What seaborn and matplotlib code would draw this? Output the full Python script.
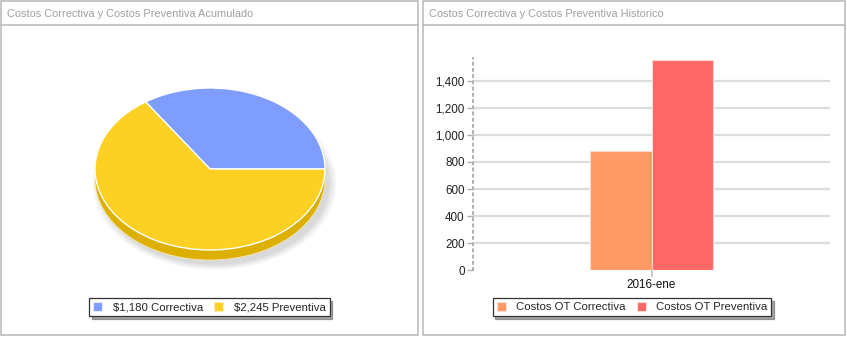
import matplotlib
matplotlib.use("Agg")
import matplotlib.pyplot as plt
import seaborn as sns
import pandas as pd
from matplotlib.patches import Rectangle, Ellipse, Patch
from matplotlib.ticker import StrMethodFormatter, FixedLocator

# ---------------- data ----------------
pie_labels = ["Correctiva", "Preventiva"]
pie_values = [1180, 2245]
pie_colors = ["#7f9cff", "#fcd124"]

bar_category = ["2016-ene"]
bar_series = ["Costos OT Correctiva", "Costos OT Preventiva"]
bar_correctiva = [880]
bar_preventiva = [1550]
bar_colors = ["#ff9966", "#ff6666"]
y_ticks = [0, 200, 400, 600, 800, 1000, 1200, 1400]

panel_titles = ["Costos Correctiva y Costos Preventiva Acumulado",
                "Costos Correctiva y Costos Preventiva Historico"]

# ---------------- figure ----------------
sns.set_theme(style="white")
plt.rcParams["font.family"] = ["Liberation Sans", "DejaVu Sans"]
W, H = 847, 339
fig = plt.figure(figsize=(W / 100, H / 100), dpi=100)
fig.patch.set_facecolor("white")


def fx(px):
    return px / W


def fy(py):
    return 1 - py / H


def box(left, top, right, bottom):
    return [fx(left), fy(bottom), fx(right) - fx(left), fy(top) - fy(bottom)]


# panels
for (l, r), title in zip([(1, 418), (423, 845)], panel_titles):
    fig.add_artist(Rectangle((fx(l), fy(335)), fx(r) - fx(l), fy(1) - fy(335),
                             transform=fig.transFigure, fill=False,
                             edgecolor="#b8b8b8", lw=1.1))
    fig.add_artist(plt.Line2D([fx(l), fx(r)], [fy(25), fy(25)],
                              transform=fig.transFigure, color="#b8b8b8", lw=1.1))
    fig.text(fx(l + 6), fy(14), title, fontsize=7.9, color="#a0a0a0",
             va="center", ha="left")

# ---------------- pie ----------------
cx, cy, rx, ry = 210, 169, 115, 81
L, R, T, B = 80, 340, 75, 285
axp = fig.add_axes(box(L, T, R, B))
axp.set_axis_off()
depth = 10 / ry
# shadow
for i, a in enumerate([0.035, 0.035, 0.04, 0.045]):
    s = 1.06 - i * 0.02
    axp.add_patch(Ellipse((0.04, -depth - 0.06), 2 * s, 2 * s, color="#000000",
                          alpha=a, lw=0, zorder=0))
# depth (extrusion)
axp.add_patch(Ellipse((0, -depth), 2, 2, color="#ddb000", lw=0, zorder=1))
axp.add_patch(Rectangle((-1, -depth), 2, depth, color="#ddb000", lw=0, zorder=1))
axp.add_patch(Ellipse((0, -depth), 2, 2, fill=False, edgecolor="#f5e6a8", lw=0.6, zorder=1.5))
wedges, _ = axp.pie(pie_values, colors=pie_colors, startangle=0, counterclock=True,
                    radius=1, wedgeprops=dict(edgecolor="white", linewidth=1.0))
for w in wedges:
    w.set_zorder(2)
axp.set_aspect("auto")
axp.set_xlim((L - cx) / rx, (R - cx) / rx)
axp.set_ylim(-(B - cy) / ry, (cy - T) / ry)

pie_handles = [Patch(facecolor=c, edgecolor="#e8e8ff" if i == 0 else "#fff0b0", lw=0.8)
               for i, c in enumerate(pie_colors)]
pie_texts = [f"\\${v:,} {n}" for v, n in zip(pie_values, pie_labels)]
leg1 = fig.legend(pie_handles, pie_texts, loc="center", ncol=2,
                  bbox_to_anchor=(fx(209.5), fy(307)), bbox_transform=fig.transFigure,
                  fontsize=8.2, frameon=True, fancybox=False, shadow=True,
                  handlelength=0.8, handleheight=0.8, handletextpad=0.9,
                  columnspacing=1.0, borderpad=0.35, borderaxespad=0)
leg1.get_frame().set_edgecolor("#333333")
leg1.get_frame().set_linewidth(0.9)

# ---------------- bars ----------------
df = pd.DataFrame({
    "cat": bar_category * 2,
    "serie": [bar_series[0]] * len(bar_category) + [bar_series[1]] * len(bar_category),
    "val": bar_correctiva + bar_preventiva,
})
scale = 0.1355
zero_y = 270.4
ymax = 1570
axb = fig.add_axes(box(473, zero_y - ymax * scale, 830, zero_y))
sns.barplot(data=df, x="cat", y="val", hue="serie", palette=bar_colors,
            saturation=1, width=0.347, gap=0, ax=axb, legend=False,
            edgecolor="#ffd8cc", linewidth=0.8, zorder=3)
axb.set_xlim(-0.5, 0.5)
axb.set_ylim(0, ymax)
axb.set_xlabel("")
axb.set_ylabel("")
axb.yaxis.set_major_locator(FixedLocator(y_ticks))
axb.yaxis.set_major_formatter(StrMethodFormatter("{x:,.0f}"))
axb.yaxis.grid(True, color="#dcdcdc", lw=1.6, zorder=0)
axb.set_axisbelow(True)
for gl, t in zip(axb.yaxis.get_gridlines(), y_ticks):
    if t == 0:
        gl.set_visible(False)
for s in ["top", "right", "bottom"]:
    axb.spines[s].set_visible(False)
axb.spines["left"].set_color("#b0b0b0")
axb.spines["left"].set_linewidth(1.4)
axb.spines["left"].set_linestyle((0, (1, 2.2)))
axb.spines["left"].set_bounds(0, ymax)
axb.tick_params(axis="y", length=4, width=1, color="#b0b0b0", labelsize=8.4,
                labelcolor="#222222", pad=2, left=True)
axb.tick_params(axis="x", length=5, width=1.2, color="#c0c0c0", labelsize=8.4,
                labelcolor="#111111", pad=1, bottom=True)
axb.patch.set_alpha(0)

bar_handles = [Patch(facecolor=c, edgecolor="#ffe0d8", lw=0.8) for c in bar_colors]
leg2 = fig.legend(bar_handles, bar_series, loc="center", ncol=2,
                  bbox_to_anchor=(fx(632), fy(307)), bbox_transform=fig.transFigure,
                  fontsize=8.2, frameon=True, fancybox=False, shadow=True,
                  handlelength=0.8, handleheight=0.8, handletextpad=0.9,
                  columnspacing=1.0, borderpad=0.35, borderaxespad=0)
leg2.get_frame().set_edgecolor("#333333")
leg2.get_frame().set_linewidth(0.9)

fig.savefig("out.png", dpi=100, facecolor="white")
